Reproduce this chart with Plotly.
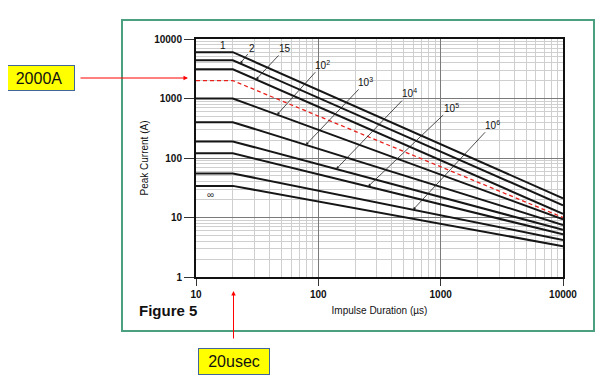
import math
import plotly.graph_objects as go

# ---------------- data ----------------
durations = [10, 20, 10000]                      # impulse duration (µs) knots
curve_labels = ["1", "2", "15", "10<sup>2</sup>", "10<sup>3</sup>", "10<sup>4</sup>",
                "10<sup>5</sup>", "10<sup>6</sup>", "∞"]
peak_start = [6000, 4400, 3100, 1000, 400, 190, 120, 55, 34]   # A, flat up to 20 µs
peak_end = [21, 16, 11.5, 9.3, 7.5, 6.2, 5.2, 4.2, 3.3]        # A at 10000 µs
marked_start = 2000
marked_end = 10
x_ticks = [10, 100, 1000, 10000]
y_ticks = [1, 10, 100, 1000, 10000]

# label arrows: curve index, duration where arrow touches the curve, pixel offset of label
arrow_idx = [1, 2, 3, 4, 5, 6, 7]
arrow_x = [23, 31, 46, 79, 140, 255, 595]
arrow_off = [(12, -15), (29, -31), (45, -50), (60, -63), (73, -76), (83, -79), (79, -85)]

# page body has an 8px margin, so the figure is drawn 8px right/down
OFF = 8
W, H = 603 - OFF, 378 - OFF
L, R, T, B = 196, 563, 39, 277     # plot area in screen pixels


def curve_vals(s, e):
    return [s, s, e]


def val_at(s, e, x):
    lx0, lx1 = math.log10(durations[1]), math.log10(durations[2])
    if x <= durations[1]:
        return s
    t = (math.log10(x) - lx0) / (lx1 - lx0)
    return 10 ** (math.log10(s) + t * (math.log10(e) - math.log10(s)))


def px(xp):
    return (xp - L) / (R - L)


def py(yp):
    return (B - yp) / (B - T)


fig = go.Figure()
for s, e in zip(peak_start, peak_end):
    fig.add_trace(go.Scatter(x=durations, y=curve_vals(s, e), mode="lines",
                             line=dict(color="#161616", width=2), hoverinfo="skip"))
fig.add_trace(go.Scatter(x=durations, y=curve_vals(marked_start, marked_end), mode="lines",
                         line=dict(color="#e8201c", width=1.3, dash="4px,3px"), hoverinfo="skip"))

ann = []
lab_font = dict(family="Liberation Sans, Arial", size=10, color="#111")
for i, xa, (ox, oy) in zip(arrow_idx, arrow_x, arrow_off):
    ya = val_at(peak_start[i], peak_end[i], xa)
    ann.append(dict(x=math.log10(xa), y=math.log10(ya), xref="x", yref="y",
                    text=curve_labels[i], font=lab_font, showarrow=True,
                    ax=ox, ay=oy, arrowhead=2, arrowsize=0.7, arrowwidth=0.8,
                    arrowcolor="#222", standoff=0))
ann.append(dict(x=math.log10(16.6), y=math.log10(peak_start[0]), xref="x", yref="y",
                text=curve_labels[0], font=lab_font, showarrow=False, yanchor="bottom", yshift=-1))
ann.append(dict(x=math.log10(13.2), y=math.log10(peak_start[-1]), xref="x", yref="y",
                text=curve_labels[-1], font=dict(family="Liberation Sans", size=10, color="#333"),
                showarrow=False, yanchor="top", yshift=-1))

# outside callouts
box_font = dict(family="Liberation Sans, Arial", size=16, color="#111")
ann.append(dict(x=px(39), y=py(78), xref="paper", yref="paper", text="2000A",
                font=box_font, showarrow=False, xanchor="center", yanchor="middle",
                bgcolor="#ffff00", bordercolor="#41679a", borderwidth=1, width=68, height=22))
ann.append(dict(x=px(188), y=py(78), xref="paper", yref="paper", text="", showarrow=True,
                ax=-109, ay=0, arrowhead=2, arrowsize=0.9, arrowwidth=1, arrowcolor="#ff0000"))
ann.append(dict(x=px(233.5), y=py(361.5), xref="paper", yref="paper", text="20usec",
                font=box_font, showarrow=False, xanchor="center", yanchor="middle",
                bgcolor="#ffff00", bordercolor="#41679a", borderwidth=1, width=68, height=23))
ann.append(dict(x=px(233.5), y=py(291), xref="paper", yref="paper", text="", showarrow=True,
                ax=0, ay=49, arrowhead=2, arrowsize=0.9, arrowwidth=1, arrowcolor="#ff0000"))
ann.append(dict(x=px(137), y=py(310), xref="paper", yref="paper", text="<b>Figure 5</b>",
                font=dict(family="Liberation Sans, Arial", size=15, color="#111"),
                showarrow=False, xanchor="left", yanchor="middle"))

minor_x = [m * 10 ** d for d in range(1, 4) for m in range(2, 10)]
minor_y = [m * 10 ** d for d in range(0, 4) for m in range(2, 10)]

axis_font = dict(family="Liberation Sans, Arial", size=10, color="#111")
tick_font = dict(family="Liberation Sans, Arial", size=10, color="#111", weight="bold")
fig.update_layout(
    width=W, height=H,
    margin=dict(l=L - OFF, r=W - (R - OFF), t=T - OFF, b=H - (B - OFF)),
    paper_bgcolor="white", plot_bgcolor="white", showlegend=False,
    annotations=ann,
    shapes=[dict(type="rect", xref="paper", yref="paper", x0=px(122), x1=px(594),
                 y0=py(331), y1=py(20), line=dict(color="#4aa07f", width=2), layer="below")],
    xaxis=dict(type="log", range=[1, 4], tickvals=x_ticks, ticktext=[str(v) for v in x_ticks],
               tickfont=tick_font, ticks="outside", ticklen=7, tickcolor="#333",
               showgrid=True, gridcolor="#7a7a7a", gridwidth=1.2,
               minor=dict(tickvals=minor_x, showgrid=True, gridcolor="#cfcfcf", gridwidth=1, ticks=""),
               showline=True, linecolor="#111", linewidth=2, mirror=True, zeroline=False,
               title=dict(text="Impulse Duration (µs)", font=axis_font, standoff=8)),
    yaxis=dict(type="log", range=[0, 4], tickvals=y_ticks, ticktext=[str(v) for v in y_ticks],
               tickfont=tick_font, ticks="outside", ticklen=10, tickcolor="#333",
               showgrid=True, gridcolor="#7a7a7a", gridwidth=1.2,
               minor=dict(tickvals=minor_y, showgrid=True, gridcolor="#cfcfcf", gridwidth=1, ticks=""),
               showline=True, linecolor="#111", linewidth=2, mirror=True, zeroline=False,
               title=dict(text="Peak Current (A)", font=axis_font, standoff=4)),
)

fig.write_html("out.html")
